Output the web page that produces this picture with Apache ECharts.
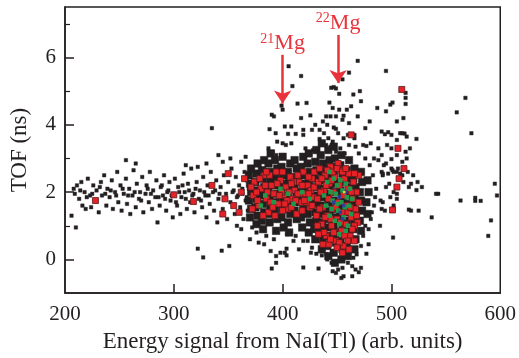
<!DOCTYPE html>
<html>
<head>
<meta charset="utf-8">
<script src="https://cdn.jsdelivr.net/npm/echarts@6/dist/echarts.min.js"></script>
<style>
  html, body { margin: 0; padding: 0; background: #fff; }
  #main { width: 519px; height: 358px; }
</style>
</head>
<body>
<div id="main"></div>
<script>
// tick values
const xLabels = [200, 300, 400, 500, 600];
const xTicks = [300, 400, 500];
const yLabels = [0, 2, 4, 6];
const yMinor = [1, 3, 5, 7];

// isolated events (energy, TOF)
const blackDots = [
  // low-energy band
  [206,1.3],[208,2.1],[210,0.95],[211,2.2],[213,1.8],[215,2.3],[216,1.6],[218,2.0],[219,1.5],[221,2.4],
  [223,1.9],[224,1.55],[226,2.2],[228,1.75],[229,2.05],[231,1.4],[233,2.3],[234,1.9],[236,2.5],[238,1.6],
  [239,2.1],[241,1.85],[243,2.35],[244,1.5],[246,2.0],[248,2.6],[249,1.7],[251,2.2],[252,1.45],[254,1.95],
  [256,2.4],[257,1.65],[259,2.1],[260,1.35],[262,1.9],[263,2.65],[265,1.55],[266,2.25],[268,1.8],[269,2.0],
  [271,2.45],[272,1.4],[274,1.95],[275,2.2],[277,1.7],[278,2.6],[280,1.5],[281,2.05],[283,1.85],[284,2.35],
  [285,1.1],[287,1.6],[288,2.15],[290,1.9],[291,2.5],[293,1.45],[294,2.0],[296,2.3],[297,1.75],[299,1.25],
  [300,1.95],[301,2.4],[303,1.6],[304,2.15],[306,1.35],[307,1.85],[309,2.55],[310,2.0],[312,1.5],[313,2.25],
  [315,1.7],[316,2.7],[318,1.95],[319,1.4],[321,2.3],[322,0.32],[323,1.8],[324,2.05],[326,1.55],[327,0.06],
  [327,2.45],[329,1.9],[330,1.25],[331,2.2],[333,1.65],[334,2.6],[335,3.9],[336,2.0],[337,1.45],[339,2.35],
  [340,1.1],[341,3.1],[341,1.8],[343,2.15],[344,0.26],[345,2.9],[345,1.5],[346,2.5],[348,1.95],[349,1.2],
  [350,2.3],[351,0.4],[352,1.7],[353,2.7],[355,2.05],[356,1.35],[357,2.45],[358,1.85],[360,2.2],[361,1.55],
  [362,2.9],[363,1.95],[364,1.2],[365,2.6],[366,1.75],[367,2.35],[368,1.45],[369,2.1],[370,0.6],
  [209,1.95],[214,2.05],[220,1.85],[225,1.95],[232,2.15],[237,1.95],[242,2.05],[247,1.9],[253,2.1],[258,1.9],
  [264,2.0],[270,1.75],[276,2.1],[279,1.95],[286,1.85],[289,2.2],[292,1.8],[295,2.05],[298,1.9],[302,1.7],
  [305,2.0],[308,2.2],[311,1.8],[314,2.05],[317,1.9],[320,2.1],[325,1.75],[328,2.0],[332,1.9],[338,2.05],
  [342,1.95],[347,1.8],[354,2.0],[359,1.9],[363,2.1],[367,1.85],
  [256,2.95],[265,2.85],[311,2.8],[322,2.75],[330,2.85],[352,3.0],[358,1.0],[362,0.9],[366,3.05],
  // above the core
  [405.5,5.74],[417,5.45],[409,5.15],[469,5.9],[461,5.55],[495,5.6],[444.7,5.1],[447,5.12],[449,5.08],[455,5.35],
  [452,4.92],[465,4.9],[471,5.0],[472,4.7],[513,4.95],[513,4.8],[513,4.62],[568,4.8],[560,4.37],[573.5,3.75],
  [399,4.57],[390,4.3],[392,4.25],[400,4.45],[413.7,4.63],[422,4.65],[443,4.66],[446,4.5],[452,4.45],[459,4.45],
  [463,4.55],[487,4.5],[499,4.6],[501,4.66],[495,4.4],[425.5,4.28],[440,4.25],[444,4.25],[449,4.25],[456,4.27],
  [437,4.1],[447,3.92],[449,3.88],[455,4.15],[511,4.2],[505,4.1],[388,3.87],[393.6,3.75],[402,3.95],[408,3.95],
  [405,3.73],[412,3.73],[419,3.85],[419,3.7],[427,3.85],[434,3.85],[434,3.58],[442,3.6],[446,3.5],[456,3.6],
  [460,3.7],[466,3.7],[466,3.6],[491,3.8],[494,3.72],[497,3.78],[500,3.7],[508,3.75],[510,3.75],[512,3.74],
  [514,3.65],[523,3.58],[505,3.55],[496,3.4],[500,3.3],[517,3.3],[513,3.2],[505,3.1],[491,3.1],[514,3.0],
  [488,2.95],[500,2.98],[493,2.8],[495,2.85],[510,2.9],[506,2.7],[500,2.7],[501,2.65],[491,2.6],[492,2.55],
  [508,2.55],[510,2.5],[477,3.37],[395,3.5],[400,3.45],[403,3.4],[408,3.45],[387,3.3],[391,3.2],[394,3.1],
  [421,3.3],[428,3.25],[434,3.1],[440,3.4],[444,3.35],[449,3.2],[453,3.3],[457,3.15],[461,3.4],[467,3.35],
  [470,3.15],[474,3.4],[481,3.45],[488,3.3],[484,3.0],[417,4.2],[430,4.0],[438,3.75],[451,3.75],[441,4.0],
  [461,4.05],[469,4.25],[476,3.9],[480,4.1],[515,2.6],[520,2.5],[524,2.3],[528,2.15],
  // high-energy tail
  [595,2.25],[597,1.9],[591.5,1.16],[589,0.7],[577,1.83],[577,1.74],[582,1.74],[563.5,1.75],[541,1.95],[537,1.25],
  [525,1.45],[516,1.48],[518,1.45],[523,2.06],[516,2.15],[518,2.25],[511,2.3],[505,1.95],[505,1.8],[499,1.85],
  [502,2.0],[502,1.6],[502,1.5],[501.5,0.65],[489.5,1.0],[491,1.5],[494,1.45],[490,1.75],[492,1.7],[495,2.15],
  [498,2.25],[492,2.5],[497,2.55],[502,2.6],[505,2.6],[543,1.95],
  // below the core
  [390,-0.27],[394,-0.1],[394,0.1],[398,0.2],[402,0.2],[389,0.25],[383,0.45],[419,-0.24],[433,-0.27],[419,0.55],
  [423,0.55],[427,0.35],[431,0.17],[436,0.12],[440,0.15],[441,0.0],[445,-0.1],[446,-0.35],[449,-0.4],[451,-0.3],
  [455,-0.25],[454,-0.55],[456,-0.5],[464,-0.5],[464,-0.2],[467,-0.3],[470,-0.38],[472,-0.25],[468,0.15],[477,0.17],
  [479,0.45],[385,0.7],[392,0.6],[403.6,0.32],[403.6,0.12],[410,0.55],[412,0.7],[415,0.3],[404,0.75],[376,0.8],
  [372,0.95],[378,0.5],[426,0.2],[460,-0.1],[465,0.05],[472,0.4],[474,0.7],[476,1.0],[481,1.2],[484,1.6],
  [486,2.1],[483,2.5],[480,2.8],[476,3.0],[485,1.85],[482,1.4],[479,0.9]
];

// dense region, drawn with larger marks
const coreDots = [
  [370,1.25],[371,1.5],[369,1.75],[371,2.0],[370,2.25],[369,2.5],[371,2.7],
  [376,1.05],[377,1.3],[375,1.55],[376,1.8],[377,2.05],[375,2.3],[376,2.55],[377,2.85],
  [382,0.9],[381,1.15],[383,1.4],[382,1.65],[381,1.9],[383,2.15],[382,2.4],[381,2.65],[383,2.95],
  [388,1.1],[387,1.35],[389,1.6],[388,1.85],[387,2.1],[389,2.35],[388,2.6],[387,2.85],[389,3.15],
  [394,0.85],[395,1.2],[393,1.45],[394,1.7],[395,1.95],[393,2.2],[394,2.45],[395,2.7],[393,2.95],
  [401,0.95],[399,1.25],[400,1.5],[401,1.75],[399,2.0],[400,2.25],[401,2.5],[399,2.75],[400,3.05],
  [406,0.8],[405,1.1],[407,1.35],[406,1.6],[405,1.85],[407,2.1],[406,2.35],[405,2.6],[407,2.85],
  [413,1.2],[411,1.45],[412,1.7],[413,1.95],[411,2.2],[412,2.45],[413,2.7],[411,2.95],
  [418,0.95],[417,1.25],[419,1.5],[418,1.75],[417,2.0],[419,2.25],[418,2.5],[417,2.75],[419,3.05],
  [424,0.8],[425,1.1],[423,1.35],[424,1.6],[425,1.85],[423,2.1],[424,2.35],[425,2.6],[423,2.85],[424,3.15],
  [430,0.6],[429,0.9],[431,1.15],[430,1.4],[429,1.65],[431,1.9],[430,2.15],[429,2.4],[431,2.65],[430,2.9],[431,3.25],
  [436,0.3],[437,0.6],[435,0.85],[436,1.1],[437,1.35],[435,1.6],[436,1.85],[437,2.1],[435,2.35],[436,2.6],[437,2.85],[435,3.1],[436,3.45],
  [442,0.1],[441,0.4],[443,0.7],[442,0.95],[441,1.2],[443,1.45],[442,1.7],[441,1.95],[443,2.2],[442,2.45],[441,2.7],[443,2.95],[442,3.25],
  [448,-0.1],[447,0.2],[449,0.5],[448,0.75],[447,1.0],[449,1.25],[448,1.5],[447,1.75],[449,2.0],[448,2.25],[447,2.5],[449,2.75],[448,3.0],[447,3.35],
  [454,0.0],[455,0.3],[453,0.55],[454,0.8],[455,1.05],[453,1.3],[454,1.55],[455,1.8],[453,2.05],[454,2.3],[455,2.55],[453,2.8],[454,3.1],
  [460,0.1],[459,0.4],[461,0.65],[460,0.9],[459,1.15],[461,1.4],[460,1.65],[459,1.9],[461,2.15],[460,2.4],[459,2.65],[461,2.95],
  [466,0.3],[467,0.6],[465,0.9],[466,1.15],[467,1.4],[465,1.65],[466,1.9],[467,2.15],[465,2.4],[466,2.7],
  [472,0.85],[471,1.15],[473,1.45],[472,1.75],[471,2.0],[473,2.3],[472,2.6],
  [478,1.35],[477,1.7],[479,2.0],[478,2.35]
];

const redDots = [
  [373,1.9],[374,2.3],[378,1.6],[380,2.1],[383,2.5],[385,1.8],[387,1.4],[390,2.2],[392,1.95],[394,2.6],
  [396,1.65],[398,2.35],[401,1.9],[403,2.15],[405,1.5],[407,2.45],[409,1.8],[411,2.05],[413,1.35],[415,2.3],
  [417,1.7],[419,2.6],[421,1.95],[423,2.2],[425,1.55],[427,2.4],[428,1.85],
  [376,2.0],[389,1.7],[399,2.0],[404,1.75],[410,2.3],[416,1.95],[422,1.7],[426,2.05],
  [372,1.5],[377,1.75],[379,2.4],[382,1.3],[384,2.2],[386,2.0],[388,2.5],[391,1.55],[393,1.3],[395,2.25],
  [397,1.9],[400,1.45],[400,2.6],[402,1.65],[406,2.0],[408,2.25],[408,1.55],[412,1.75],[414,2.5],[414,1.95],
  [418,1.45],[418,2.2],[420,1.75],[424,1.95],[424,2.45],[427,1.6],[429,2.15],[429,2.6],[385,2.6],[371,2.15],
  [431,1.3],[432,1.8],[433,2.3],[434,2.7],[436,1.05],[437,1.55],[438,2.05],[439,2.5],[440,0.7],[441,1.3],
  [442,1.8],[443,2.25],[444,2.75],[445,1.0],[446,1.5],[447,2.0],[448,2.45],[449,0.55],[450,1.2],[451,1.7],
  [452,2.2],[453,2.65],[454,0.85],[455,1.4],[456,1.9],[457,2.4],[458,1.05],[459,1.6],[460,2.1],[461,2.55],
  [462,0.7],[463,1.25],[464,1.8],[465,2.3],[467,1.5],[468,2.0],[469,1.1],[470,2.5],
  [435,2.0],[440,2.2],[444,1.2],[449,1.55],[453,1.1],[457,0.7],[460,1.4],[463,2.0],[466,1.0],[446,2.6],
  [438,0.8],[451,2.85],[442,0.45],[456,0.4],
  [432,1.0],[434,1.5],[436,2.4],[439,1.25],[441,2.65],[445,2.35],[447,0.8],[450,2.7],[452,0.5],[455,2.6],
  [458,2.7],[460,0.55],[462,1.55],[464,0.9],[466,2.55],[468,1.3],[470,1.7],[466,0.55],[433,0.75],[437,0.45],
  [444,0.6],[450,0.35],[455,0.2],[461,0.3],
  [300,1.92],[318,1.72],[228,1.75],[347,1.8],[335,2.2],[355,1.6],[362,2.0],[365,2.4],[463,3.7],[509.5,5.05],
  [501,1.47],[507,2.4],[505,2.15],[360,1.4],[350,2.55],[345,1.35],[506,3.3],[511.5,2.7]
];

const greenDots = [
  [438,1.9],[440,1.6],[441,2.3],[443,1.3],[444,2.0],[446,1.75],[447,2.4],[448,1.15],[449,1.95],[450,2.2],
  [451,1.45],[452,1.05],[453,2.35],[454,1.7],[455,2.05],[456,1.25],[457,1.55],[458,2.25],[459,1.85],[460,1.0],
  [461,1.6],[462,2.1],[463,1.35],[464,1.8],[452,0.75],[458,0.85],[445,1.5],[450,1.65],[443,2.6],
  [384,1.9],[392,1.7],[398,2.1],[405,1.95],[410,1.65],[418,2.0],[380,1.6],[425,1.8]
];

const blueDots = [[452,1.85],[456,1.6],[453,1.4],[458,2.0],[447,1.7],[455,1.2]];
const yellowDots = [[456.6,2.0]];

// peak markers: isotope mass, arrow top, arrow tip, label position
const peaks = [
  { mass: '21', x: 400, top: 6.08, tip: 4.63, labelY: 6.42 },
  { mass: '22', x: 451, top: 6.67, tip: 5.24, labelY: 7.03 }
];

const ink = '#231f20';
const red = '#e8333a';
const serif = 'Liberation Serif';

const chart = echarts.init(document.getElementById('main'));
chart.setOption({
  animation: false,
  grid: { left: 64, top: 7, right: 17, bottom: 60, show: true, borderColor: ink, borderWidth: 1.5 },
  xAxis: {
    type: 'value', min: 200, max: 600,
    name: 'Energy signal from NaI(Tl) (arb. units)', nameLocation: 'middle', nameGap: 35,
    nameTextStyle: { fontFamily: serif, fontSize: 23, color: ink },
    axisLine: { onZero: false, lineStyle: { color: ink, width: 1.5 } },
    axisTick: { inside: true, length: 9, customValues: xTicks, lineStyle: { color: ink, width: 1.5 } },
    axisLabel: { customValues: xLabels, fontFamily: serif, fontSize: 21, color: ink, margin: 11 },
    splitLine: { show: false }
  },
  yAxis: [{
    type: 'value', min: -1, max: 7.5,
    name: 'TOF (ns)', nameLocation: 'middle', nameGap: 34,
    nameTextStyle: { fontFamily: serif, fontSize: 23, color: ink },
    axisLine: { show: true, onZero: false, lineStyle: { color: ink, width: 1.5 } },
    axisTick: { inside: true, length: 9, customValues: yLabels, lineStyle: { color: ink, width: 1.5 } },
    axisLabel: { customValues: yLabels, fontFamily: serif, fontSize: 21, color: ink, margin: 9 },
    splitLine: { show: false }
  }, {
    type: 'value', min: -1, max: 7.5, position: 'left',
    axisLine: { show: false, onZero: false },
    axisTick: { show: true, inside: true, length: 5, customValues: yMinor, lineStyle: { color: ink, width: 1.2 } },
    axisLabel: { show: false },
    splitLine: { show: false }
  }],
  series: [
    {
      type: 'scatter', data: blackDots, symbol: 'rect', symbolSize: 3.5,
      itemStyle: { color: ink, opacity: 1, borderColor: 'rgba(35,31,32,0.4)', borderWidth: 1 }
    },
    {
      type: 'scatter', data: coreDots, symbol: 'rect', symbolSize: 7.5,
      itemStyle: { color: ink, opacity: 1, borderColor: 'rgba(35,31,32,0.5)', borderWidth: 1 }
    },
    {
      type: 'scatter', data: redDots, symbol: 'rect', symbolSize: 6,
      itemStyle: { color: '#e52228', opacity: 1, borderColor: '#5a1a1c', borderWidth: 0.8 }
    },
    {
      type: 'scatter', data: greenDots, symbol: 'rect', symbolSize: 4.5,
      itemStyle: { color: '#1e9a4a', opacity: 1 }
    },
    {
      type: 'scatter', data: blueDots, symbol: 'rect', symbolSize: 3.5,
      itemStyle: { color: '#2b3f9e', opacity: 1 }
    },
    {
      type: 'scatter', data: yellowDots, symbol: 'rect', symbolSize: 2.5,
      itemStyle: { color: '#e8d820', opacity: 1 },
      markLine: {
        silent: true, symbol: ['none', 'arrow'], symbolSize: 13,
        label: { show: false },
        lineStyle: { color: red, width: 2.5, type: 'solid' },
        data: peaks.map(p => [{ coord: [p.x, p.top] }, { coord: [p.x, p.tip] }])
      },
      markPoint: {
        silent: true, symbol: 'rect', symbolSize: 0,
        label: {
          show: true, position: 'inside',
          formatter: p => '{s|' + p.name + '}{m|Mg}',
          rich: {
            s: { fontFamily: serif, fontSize: 14, color: red, verticalAlign: 'top', padding: [0, 0, 8, 0] },
            m: { fontFamily: serif, fontSize: 22, color: red }
          }
        },
        data: peaks.map(p => ({ name: p.mass, coord: [p.x, p.labelY] }))
      }
    }
  ]
});
</script>
</body>
</html>
